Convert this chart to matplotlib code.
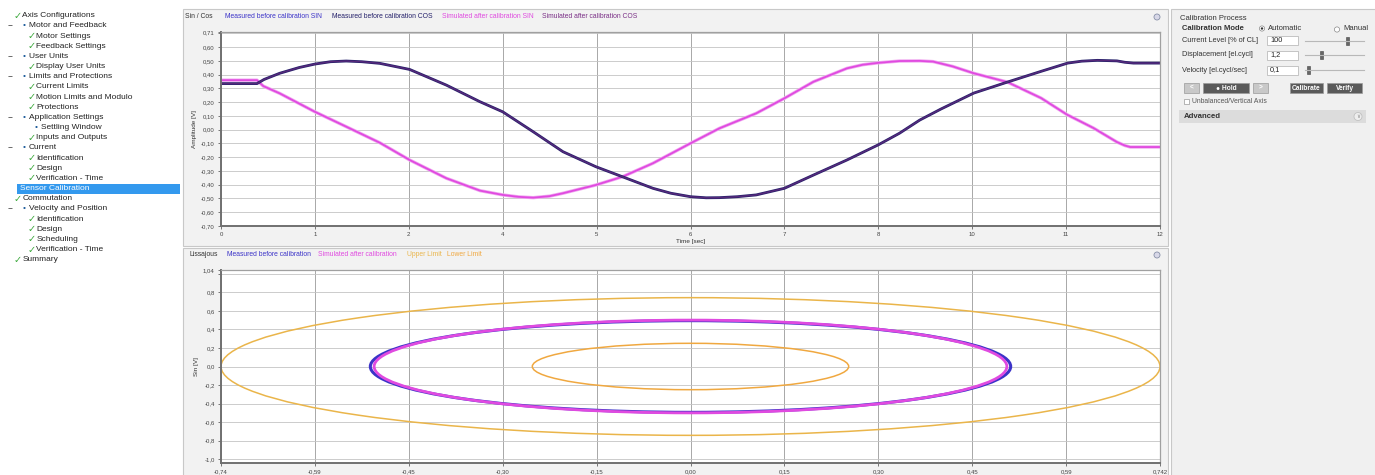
import matplotlib
matplotlib.use("Agg")
import matplotlib.pyplot as plt
from matplotlib.patches import Rectangle, Ellipse, Circle

plt.rcParams["font.family"] = ["Liberation Sans", "DejaVu Sans"]

W, H = 1375, 475

# ---------------------------------------------------------------------------
# Data
# ---------------------------------------------------------------------------
# Sin / Cos trace, time in s, amplitude in V
t_cos = [0, 0.46, 0.55, 0.75, 1.0, 1.2, 1.4, 1.6, 1.8, 2.03, 2.41, 2.88, 3.31, 3.6,
         3.99, 4.37, 4.79, 5.13, 5.52, 5.75, 6.0, 6.2, 6.37, 6.6, 6.84, 7.2, 7.57,
         8.0, 8.4, 8.67, 8.93, 9.2, 9.62, 10.05, 10.48, 10.82, 11.0, 11.2, 11.45,
         11.55, 11.66, 12.0]
cos_meas = [0.335, 0.335, 0.365, 0.41, 0.452, 0.477, 0.494, 0.499, 0.494, 0.482,
            0.438, 0.324, 0.203, 0.13, -0.015, -0.16, -0.269, -0.342, -0.426,
            -0.462, -0.487, -0.495, -0.494, -0.487, -0.474, -0.426, -0.33, -0.22,
            -0.11, -0.026, 0.07, 0.15, 0.266, 0.346, 0.424, 0.484, 0.498, 0.504,
            0.50, 0.49, 0.484, 0.484]
cos_sim = cos_meas

t_sin = [0, 0.46, 0.54, 0.75, 1.2, 1.6, 2.03, 2.41, 2.88, 3.31, 3.6, 3.8, 3.99, 4.2,
         4.37, 4.79, 5.13, 5.52, 6.0, 6.37, 6.84, 7.2, 7.57, 8.0, 8.2, 8.4, 8.67,
         8.93, 9.1, 9.35, 9.62, 10.05, 10.48, 10.81, 11.15, 11.45, 11.55, 11.62, 12.0]
sin_meas = [0.36, 0.36, 0.317, 0.264, 0.13, 0.022, -0.095, -0.22, -0.353, -0.443,
            -0.474, -0.488, -0.494, -0.483, -0.462, -0.402, -0.342, -0.244, -0.099,
            0.01, 0.119, 0.228, 0.348, 0.446, 0.472, 0.486, 0.499, 0.50, 0.495,
            0.46, 0.41, 0.346, 0.23, 0.11, 0.012, -0.09, -0.115, -0.126, -0.126]
sin_sim = sin_meas

time_ticks = [0, 1.2, 2.4, 3.6, 4.8, 6.0, 7.2, 8.4, 9.6, 10.8, 12.0]
time_labels = ["0", "1", "2", "4", "5", "6", "7", "8", "10", "11", "12"]

# Lissajous radii [V] (x, y)
r_measured = (0.506, 0.494)
r_simulated = (0.50, 0.50)
r_upper = (0.742, 0.742)
r_lower = (0.25, 0.25)
liss_ticks = [-0.742, -0.5936, -0.4452, -0.2968, -0.1484, 0.0, 0.1484, 0.2968,
              0.4452, 0.5936, 0.742]
liss_labels = ["-0,74", "-0,59", "-0,45", "-0,30", "-0,15", "0,00", "0,15", "0,30",
               "0,45", "0,59", "0,742"]

# Navigation tree: kind 0 = top item, g = group, 1 = child, b = bullet child, sel = selected
tree_kinds = ["0", "g", "1", "1", "g", "1", "g", "1", "1", "1", "g", "b", "1", "g",
              "1", "1", "1", "sel", "0", "g", "1", "1", "1", "1", "0"]
tree_labels = ["Axis Configurations", "Motor and Feedback", "Motor Settings",
               "Feedback Settings", "User Units", "Display User Units",
               "Limits and Protections", "Current Limits", "Motion Limits and Modulo",
               "Protections", "Application Settings", "Settling Window",
               "Inputs and Outputs", "Current", "Identification", "Design",
               "Verification - Time", "Sensor Calibration", "Commutation",
               "Velocity and Position", "Identification", "Design", "Scheduling",
               "Verification - Time", "Summary"]

C_MSIN, C_MCOS = "#3b33c8", "#24206a"
C_SSIN, C_SCOS = "#e04ae0", "#7a2f86"
C_UP, C_LO = "#eab54a", "#f0a840"
GREEN = "#3aa83a"


def px_rect(x0, y0, x1, y1):
    return [x0 / W, 1 - y1 / H, (x1 - x0) / W, (y1 - y0) / H]


fig = plt.figure(figsize=(W / 100, H / 100), dpi=100)
fig.patch.set_facecolor("white")

# overlay in pixel coordinates for the surrounding UI
ui = fig.add_axes([0, 0, 1, 1])
ui.set_xlim(0, W)
ui.set_ylim(H, 0)
ui.axis("off")
ui.set_zorder(0)

# panels
ui.add_patch(Rectangle((183, 9), 985, 237, fc="#f2f2f2", ec="#c8c8c8", lw=0.8))
ui.add_patch(Rectangle((183, 248), 985, 230, fc="#f2f2f2", ec="#c8c8c8", lw=0.8))
ui.add_patch(Rectangle((1171, 9), 210, 470, fc="#f0f0f0", ec="#c8c8c8", lw=0.8))

# tree
fs_tree = 6.0
for i, (kind, label) in enumerate(zip(tree_kinds, tree_labels)):
    y = 15.7 + i * 10.17
    if kind == "0":
        ui.text(14, y, "\u2713", color=GREEN, fontsize=7, va="center", family="DejaVu Sans")
        ui.text(22.5, y, label, fontsize=fs_tree, va="center", color="#222222")
    elif kind == "g":
        ui.text(8, y, "\u2212", fontsize=fs_tree, va="center", color="#333333")
        ui.text(23, y, "\u2022", fontsize=fs_tree, va="center", color="#1a5a9a")
        ui.text(29, y, label, fontsize=fs_tree, va="center", color="#222222")
    elif kind == "1":
        ui.text(28, y, "\u2713", color=GREEN, fontsize=7, va="center", family="DejaVu Sans")
        ui.text(36.5, y, label, fontsize=fs_tree, va="center", color="#222222")
    elif kind == "b":
        ui.text(35, y, "\u2022", fontsize=fs_tree, va="center", color="#1a5a9a")
        ui.text(41, y, label, fontsize=fs_tree, va="center", color="#222222")
    else:
        ui.add_patch(Rectangle((17, y - 5), 163, 10, fc="#3399ee", ec="none"))
        ui.text(20, y, label, fontsize=fs_tree, va="center", color="white")

# top header / legend
hdr = [("Sin / Cos", "#333333", 185), ("Measured before calibration SIN", C_MSIN, 225),
       ("Measured before calibration COS", C_MCOS, 332),
       ("Simulated after calibration SIN", C_SSIN, 442),
       ("Simulated after calibration COS", C_SCOS, 542)]
for txt, col, x in hdr:
    ui.text(x, 17, txt, fontsize=4.9, color=col, va="center")
hdr2 = [("Lissajous", "#333333", 190), ("Measured before calibration", C_MSIN, 227),
        ("Simulated after calibration", C_SSIN, 318), ("Upper Limit", C_UP, 407),
        ("Lower Limit", C_LO, 447)]
for txt, col, x in hdr2:
    ui.text(x, 255, txt, fontsize=4.9, color=col, va="center")
for y in (17, 255):
    ui.add_patch(Circle((1157, y), 3, fc="#d8d8e8", ec="#8890a8", lw=0.6))

# right panel
ui.text(1180, 18, "Calibration Process", fontsize=5.5, va="center", color="#333333")
ui.text(1182, 28, "Calibration Mode", fontsize=5.5, va="center", weight="bold", color="#333333")
ui.add_patch(Circle((1262, 28.5), 2.6, fc="white", ec="#888888", lw=0.5))
ui.add_patch(Circle((1262, 28.5), 1.2, fc="#333333", ec="none"))
ui.text(1268, 28, "Automatic", fontsize=5.5, va="center", color="#333333")
ui.add_patch(Circle((1337, 29.5), 2.6, fc="white", ec="#888888", lw=0.5))
ui.text(1343, 29, "Manual", fontsize=5.5, va="center", color="#333333")
rows = [("Current Level [% of CL]", "100", 40.5, 1348),
        ("Displacement [el.cycl]", "1,2", 55, 1322),
        ("Velocity [el.cycl/sec]", "0,1", 70, 1309)]
for label, val, y, thumb in rows:
    ui.text(1182, y, label, fontsize=5.3, va="center", color="#333333")
    ui.add_patch(Rectangle((1267, y - 4.5), 31, 9, fc="white", ec="#b0b0b0", lw=0.5))
    ui.text(1270, y, val, fontsize=5.3, va="center", color="#222222")
    ui.plot([1305, 1364], [y, y], color="#b8b8b8", lw=0.8)
    ui.add_patch(Rectangle((thumb - 1.5, y - 4), 3, 8, fc="#666666", ec="#444444", lw=0.4))
buttons = [(1184, 1199, "<", "#c8c8c8"), (1203, 1249, "\u25cf Hold", "#5a5a5a"),
           (1253, 1268, ">", "#c8c8c8"), (1290, 1323, "Calibrate", "#5a5a5a"),
           (1327, 1362, "Verify", "#5a5a5a")]
for x0, x1, txt, fc in buttons:
    ui.add_patch(Rectangle((x0, 83), x1 - x0, 10, fc=fc, ec="#9a9a9a", lw=0.5))
    ui.text((x0 + x1) / 2, 88, txt, fontsize=4.8, ha="center", va="center", color="white",
            weight="bold", family=["Liberation Sans", "DejaVu Sans"])
ui.add_patch(Rectangle((1184, 99), 5, 5, fc="white", ec="#999999", lw=0.5))
ui.text(1192, 101.5, "Unbalanced/Vertical Axis", fontsize=4.9, va="center", color="#555555")
ui.add_patch(Rectangle((1179, 110), 187, 13, fc="#dcdcdc", ec="none"))
ui.text(1184, 116.5, "Advanced", fontsize=5.6, va="center", weight="bold", color="#333333")
ui.add_patch(Circle((1358, 116.5), 4, fc="#eeeeee", ec="#bbbbbb", lw=0.5))
ui.text(1358, 117, "\u2228", fontsize=4, ha="center", va="center", color="#888888",
        family="DejaVu Sans")


def style_axes(ax):
    ax.set_facecolor("white")
    for side in ("left", "bottom"):
        ax.spines[side].set_color("#707070")
        ax.spines[side].set_linewidth(1.4)
    for side in ("top", "right"):
        ax.spines[side].set_color("#a0a0a0")
        ax.spines[side].set_linewidth(0.9)
    ax.tick_params(labelsize=4.3, length=2.5, width=0.5, colors="#444444", pad=2)
    ax.grid(axis="y", color="#c4c4c4", lw=0.6)
    ax.grid(axis="x", color="#9a9a9a", lw=0.6)
    ax.set_axisbelow(True)


# ---------------------------------------------------------------------------
# Sin / Cos plot
# ---------------------------------------------------------------------------
ax1 = fig.add_axes(px_rect(221, 32, 1160, 226))
ax1.set_zorder(1)
style_axes(ax1)
ax1.plot(t_sin, sin_meas, color=C_MSIN, lw=1.0)
ax1.plot(t_sin, sin_sim, color="#f0a8f0", lw=2.4, solid_capstyle="round")
ax1.plot(t_sin, sin_sim, color=C_SSIN, lw=1.3)
ax1.plot(t_cos, cos_meas, color=C_MCOS, lw=2.0)
ax1.plot(t_cos, cos_sim, color=C_SCOS, lw=1.0, alpha=0.6)
ax1.set_xlim(0, 12)
ax1.set_ylim(-0.70, 0.71)
ax1.set_xticks(time_ticks)
ax1.set_xticklabels(time_labels)
yt = [round(-0.7 + 0.1 * k, 2) for k in range(15)] + [0.71]
ax1.set_yticks(yt)
ax1.set_yticklabels([("%.2f" % v).replace(".", ",") if v != 0.7 else "" for v in yt])
ax1.set_ylabel("Amplitude [V]", fontsize=4.6, labelpad=3, color="#333333")
ax1.set_xlabel("Time [sec]", fontsize=4.6, labelpad=1, color="#333333")

# ---------------------------------------------------------------------------
# Lissajous plot
# ---------------------------------------------------------------------------
ax2 = fig.add_axes(px_rect(221, 270, 1160, 463))
ax2.set_zorder(1)
style_axes(ax2)
ax2.set_xlim(-0.742, 0.742)
ax2.set_ylim(-1.04, 1.04)
for (rx, ry), col, lw in [(r_upper, C_UP, 1.1), (r_lower, C_LO, 1.1),
                          (r_measured, C_MSIN, 2.2), (r_simulated, C_SSIN, 2.0)]:
    ax2.add_patch(Ellipse((0, 0), 2 * rx, 2 * ry, fill=False, ec=col, lw=lw))
ax2.set_xticks(liss_ticks)
ax2.set_xticklabels(liss_labels)
yt2 = [round(-1.0 + 0.2 * k, 1) for k in range(11)] + [1.04]
ax2.set_yticks(yt2)
ax2.set_yticklabels(["1,04" if v == 1.04 else ("" if v == 1.0 else ("%.1f" % v).replace(".", ","))
                     for v in yt2])
ax2.set_ylabel("Sin [V]", fontsize=4.6, labelpad=3, color="#333333")

fig.savefig("out.png", dpi=100)
